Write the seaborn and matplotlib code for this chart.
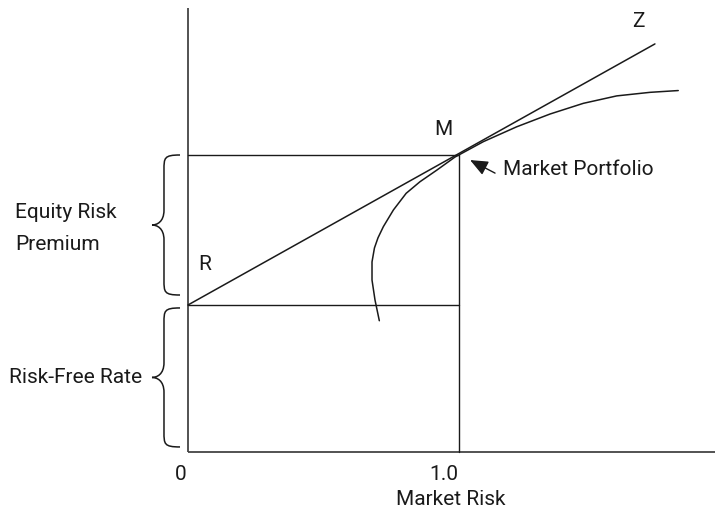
import matplotlib
matplotlib.use("Agg")
import matplotlib.pyplot as plt
from matplotlib.path import Path
from matplotlib.patches import PathPatch
import seaborn as sns
import pandas as pd

# Capital market line: from the risk-free rate R through the market portfolio M to Z
risk_free = 0.495
market_risk = 1.0
market_return = 1.0
cml_x = [0.0, 1.723]
cml_y = [0.495, 1.374]

# Efficient frontier of risky portfolios
frontier_x = [0.706, 0.690, 0.679, 0.679, 0.688, 0.701, 0.721, 0.758, 0.805,
              0.856, 0.918, 0.985, 1.090, 1.213, 1.336, 1.459, 1.582, 1.705, 1.809]
frontier_y = [0.442, 0.512, 0.579, 0.640, 0.687, 0.721, 0.759, 0.815, 0.871,
              0.910, 0.949, 0.993, 1.045, 1.095, 1.138, 1.174, 1.199, 1.211, 1.217]

tick_values = [0.0, 1.0]
tick_labels = ["0", "1.0"]

sns.set_theme(style="white")
plt.rcParams["font.family"] = ["Roboto", "DejaVu Sans"]

INK = "#1a1a1a"
FS = 15

fig = plt.figure(figsize=(7.15, 5.13), dpi=100)
ax = fig.add_axes([0, 0, 1, 1])
ax.set_xlim(-188 / 271, (715 - 188) / 271)
ax.set_ylim(-61 / 297, 452 / 297)
ax.axis("off")

# Axes drawn as plain lines starting at the origin
ax.plot([0, 0], [0, 1.495], color="#444444", lw=1.3, solid_capstyle="butt")
ax.plot([0, 1.95], [0, 0], color="#444444", lw=1.3, solid_capstyle="butt")

# Guide lines for the market portfolio and the risk-free rate
ax.plot([0, market_risk], [market_return, market_return], color=INK, lw=1.0)
ax.plot([0, market_risk], [risk_free, risk_free], color=INK, lw=1.0)
ax.plot([market_risk, market_risk], [0, market_return], color=INK, lw=1.0)

cml = pd.DataFrame({"risk": cml_x, "ret": cml_y})
sns.lineplot(data=cml, x="risk", y="ret", ax=ax, color=INK, lw=1.1,
             estimator=None, sort=False)

frontier = pd.DataFrame({"risk": frontier_x, "ret": frontier_y})
sns.lineplot(data=frontier, x="risk", y="ret", ax=ax, color=INK, lw=1.1,
             estimator=None, sort=False)


def brace(y_top, y_bot, x_end=-0.0295, x_mid=-0.0886, x_tip=-0.1328, curl=0.05):
    y_mid = (y_top + y_bot) / 2
    verts = [
        (x_end, y_top),
        (x_mid, y_top), (x_mid, y_top - 0.2 * curl), (x_mid, y_top - curl),
        (x_mid, y_mid + curl),
        (x_mid, y_mid + 0.2 * curl), (x_tip + 0.4 * (x_mid - x_tip), y_mid), (x_tip, y_mid),
        (x_tip + 0.4 * (x_mid - x_tip), y_mid), (x_mid, y_mid - 0.2 * curl), (x_mid, y_mid - curl),
        (x_mid, y_bot + curl),
        (x_mid, y_bot + 0.2 * curl), (x_mid, y_bot), (x_end, y_bot),
    ]
    codes = ([Path.MOVETO] + [Path.CURVE4] * 3 + [Path.LINETO] + [Path.CURVE4] * 6
             + [Path.LINETO] + [Path.CURVE4] * 3)
    ax.add_patch(PathPatch(Path(verts, codes), fill=False, edgecolor=INK, lw=1.1))


brace(1.0, 0.5286)
brace(0.485, 0.017)

# Point and region labels
ax.text(-0.638, 0.788, "Equity Risk", fontsize=FS, color=INK, ha="left", va="baseline")
ax.text(-0.638, 0.680, "Premium", fontsize=FS, color=INK, ha="left", va="baseline")
ax.text(-0.170, 0.232, "Risk-Free Rate", fontsize=FS, color=INK, ha="right", va="baseline")
ax.text(0.037, 0.613, "R", fontsize=FS, color=INK, ha="left", va="baseline")
ax.text(0.908, 1.067, "M", fontsize=FS, color=INK, ha="left", va="baseline")
ax.text(1.638, 1.431, "Z", fontsize=FS, color=INK, ha="left", va="baseline")
ax.text(1.162, 0.933, "Market Portfolio", fontsize=FS, color=INK, ha="left", va="baseline")
ax.annotate("", xy=(1.041, 0.983), xytext=(1.133, 0.939),
            arrowprops=dict(arrowstyle="-|>,head_length=0.9,head_width=0.38",
                            color=INK, lw=1.0, shrinkA=0, shrinkB=0))

for v, lab in zip(tick_values, tick_labels):
    ax.text(v - 0.004, -0.094, lab, fontsize=FS, color=INK, ha="right", va="baseline")
ax.text(0.768, -0.178, "Market Risk", fontsize=FS, color=INK, ha="left", va="baseline")

fig.savefig("out.png", dpi=100)
